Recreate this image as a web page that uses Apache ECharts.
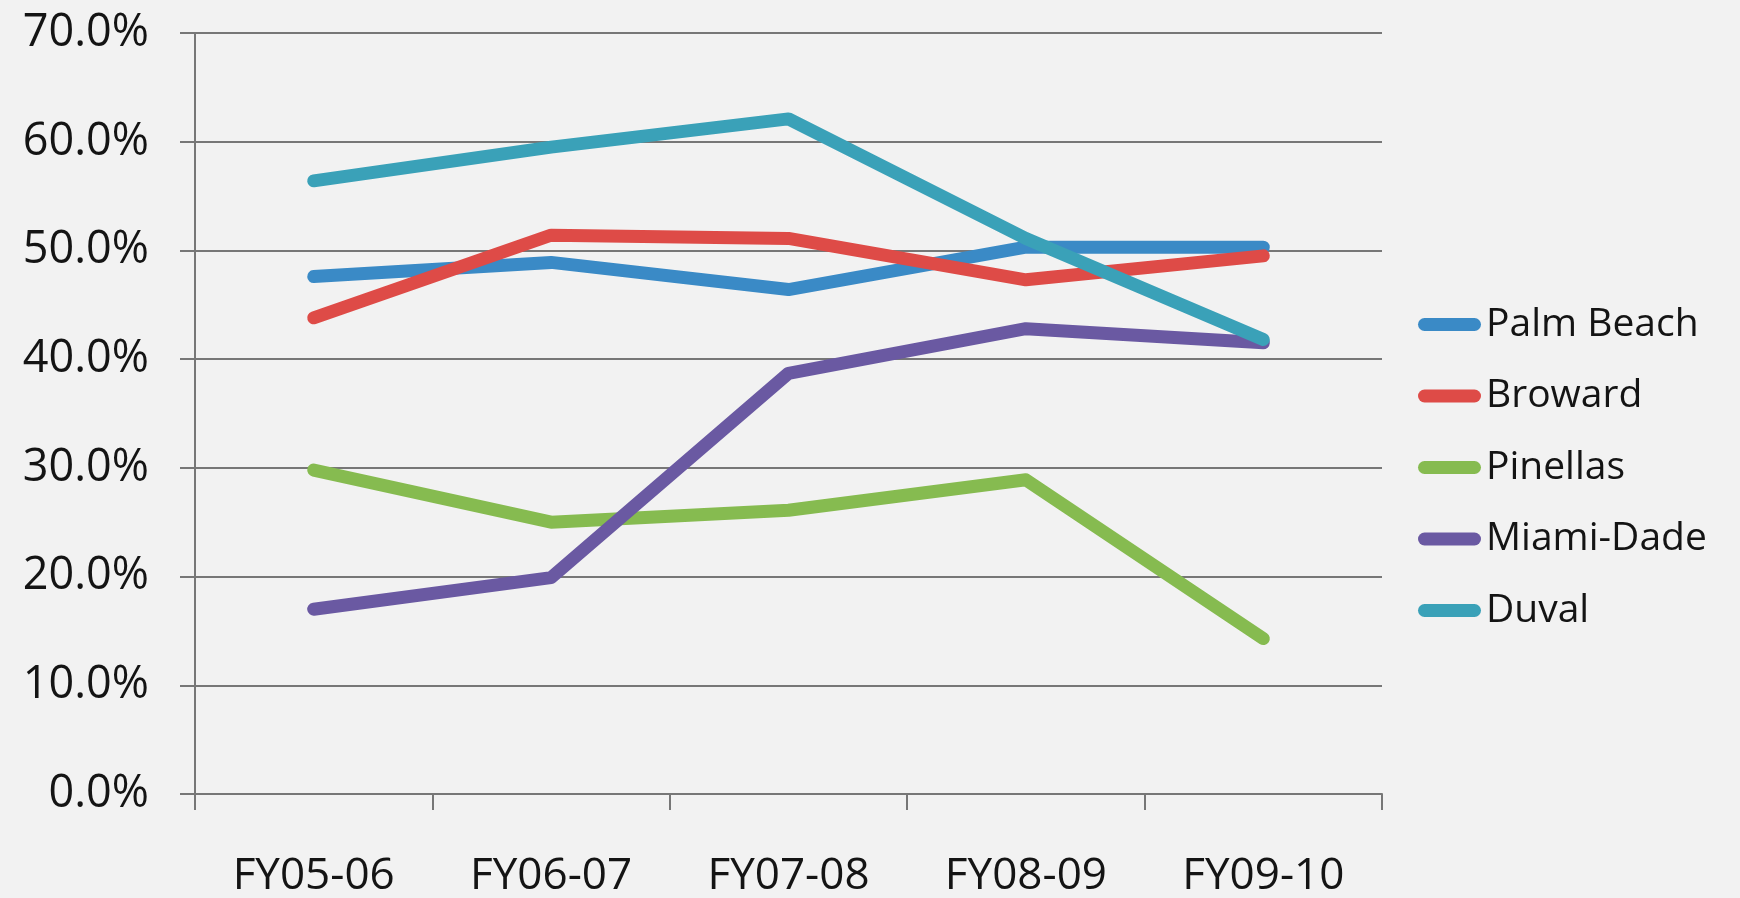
<!DOCTYPE html>
<html>
<head>
<meta charset="utf-8">
<script src="https://cdn.jsdelivr.net/npm/echarts@6/dist/echarts.min.js"></script>
<style>
html,body{margin:0;padding:0;background:#f2f2f2;}
#chart{width:1740px;height:898px;}
</style>
</head>
<body>
<div id="chart"></div>
<script>
const categories = ['FY05-06', 'FY06-07', 'FY07-08', 'FY08-09', 'FY09-10'];
const seriesNames = ['Palm Beach', 'Broward', 'Pinellas', 'Miami-Dade', 'Duval'];
const palmBeach = [47.6, 48.9, 46.4, 50.3, 50.3];
const broward = [43.8, 51.4, 51.1, 47.3, 49.5];
const pinellas = [29.8, 25.0, 26.1, 28.9, 14.3];
const miamiDade = [17.0, 19.9, 38.7, 42.8, 41.5];
const duval = [56.4, 59.5, 62.1, 51.1, 41.8];
const yTicks = [0, 10, 20, 30, 40, 50, 60, 70];

const colors = ['#3a8ac6', '#de4b47', '#86bb50', '#6a59a2', '#3aa1b8'];
const values = [palmBeach, broward, pinellas, miamiDade, duval];
const font = '"Open Sans", "Noto Sans", sans-serif';

const chart = echarts.init(document.getElementById('chart'), null, {renderer: 'canvas'});
chart.setOption({
  backgroundColor: '#f2f2f2',
  animation: false,
  grid: {left: 195, right: 358, top: 33, bottom: 102, containLabel: false},
  legend: {
    orient: 'vertical',
    left: 1413,
    top: 300,
    itemWidth: 63,
    itemHeight: 13,
    itemGap: 32.5,
    icon: 'path://M6.5,0 L56.5,0 A6.5,6.5 0 0 1 56.5,13 L6.5,13 A6.5,6.5 0 0 1 6.5,0 Z',
    textStyle: {fontFamily: font, fontSize: 39, color: '#141414', lineHeight: 38},
    data: seriesNames
  },
  xAxis: {
    type: 'category',
    data: categories,
    boundaryGap: true,
    axisLine: {show: true, lineStyle: {color: '#777', width: 2}},
    axisTick: {show: true, length: 16, lineStyle: {color: '#777', width: 2}},
    axisLabel: {fontFamily: font, fontSize: 44, color: '#141414', margin: 60}
  },
  yAxis: {
    type: 'value',
    min: yTicks[0],
    max: yTicks[yTicks.length - 1],
    interval: 10,
    axisLine: {show: true, lineStyle: {color: '#777', width: 2}},
    axisTick: {show: true, length: 15, lineStyle: {color: '#777', width: 2}},
    splitLine: {show: true, lineStyle: {color: '#777', width: 2}},
    axisLabel: {
      fontFamily: font, fontSize: 45, color: '#141414', margin: 46,
      formatter: v => v.toFixed(1) + '%'
    }
  },
  series: seriesNames.map((name, i) => ({
    name: name,
    type: 'line',
    data: values[i],
    symbol: 'none',
    color: colors[i],
    lineStyle: {width: 13, color: colors[i], cap: 'round', join: 'round'},
    z: 2 + i
  }))
});
</script>
</body>
</html>
